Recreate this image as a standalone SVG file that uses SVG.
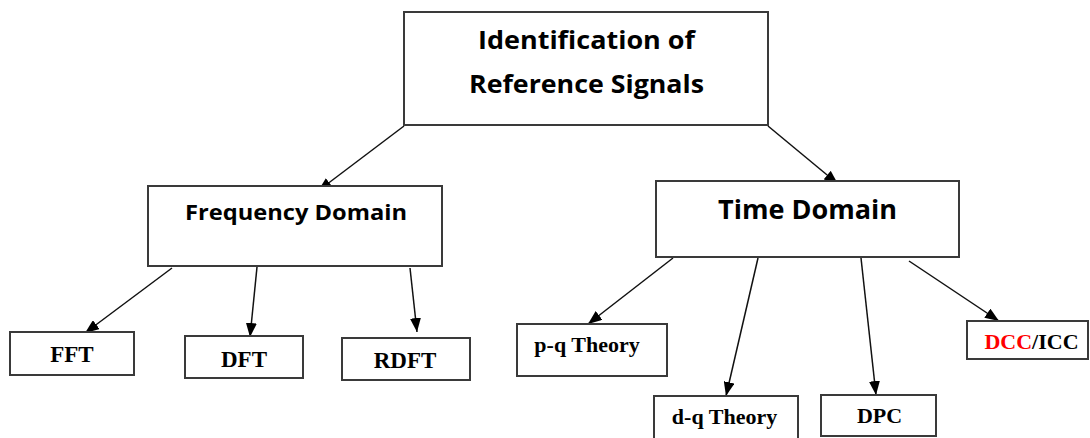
<svg xmlns="http://www.w3.org/2000/svg" width="1090" height="438" viewBox="0 0 1090 438">
  <style>
    .box { fill: #ffffff; stroke: #3a3a3a; stroke-width: 2; }
    .hdr { font-family: "Open Sans", "Liberation Sans", sans-serif; font-weight: bold; fill: #000; text-anchor: middle; }
    .leaf { font-family: "Liberation Serif", serif; font-weight: bold; fill: #000; text-anchor: middle; font-size: 22px; }
    .conn { stroke: #111; stroke-width: 1.5; fill: none; marker-end: url(#arrow); }
  </style>
  <defs>
    <marker id="arrow" markerUnits="userSpaceOnUse" markerWidth="14" markerHeight="11" refX="14" refY="5.5" orient="auto">
      <path d="M0,0 L14,5.5 L0,11 z" fill="#000"/>
    </marker>
  </defs>
  <rect width="1090" height="438" fill="#ffffff"/>

  <g id="connectors">
    <line class="conn" x1="404" y1="126" x2="318" y2="191"/>
    <line class="conn" x1="768" y1="126" x2="838" y2="184"/>
    <line class="conn" x1="172" y1="268" x2="85" y2="333"/>
    <line class="conn" x1="257" y1="267" x2="250" y2="337"/>
    <line class="conn" x1="410" y1="268" x2="417" y2="332"/>
    <line class="conn" x1="673" y1="258" x2="588" y2="324"/>
    <line class="conn" x1="758" y1="258" x2="726" y2="396"/>
    <line class="conn" x1="861" y1="258" x2="876" y2="395"/>
    <line class="conn" x1="909" y1="261" x2="999" y2="321"/>
  </g>

  <g id="root">
    <rect class="box" x="404" y="12" width="364" height="113"/>
    <text class="hdr" x="586.5" y="49" font-size="25" textLength="217" lengthAdjust="spacingAndGlyphs">Identification of</text>
    <text class="hdr" x="586.5" y="93" font-size="25" textLength="235" lengthAdjust="spacingAndGlyphs">Reference Signals</text>
  </g>

  <g id="freq">
    <rect class="box" x="148" y="186" width="294" height="80"/>
    <text class="hdr" x="296" y="220" font-size="21" textLength="222" lengthAdjust="spacingAndGlyphs">Frequency Domain</text>
  </g>

  <g id="time">
    <rect class="box" x="656" y="181" width="303" height="76"/>
    <text class="hdr" x="807.5" y="219" font-size="27" textLength="179" lengthAdjust="spacingAndGlyphs">Time Domain</text>
  </g>

  <g id="fft">
    <rect class="box" x="10" y="332" width="124" height="43"/>
    <text class="leaf" x="72" y="362" font-size="23" style="font-size:23px">FFT</text>
  </g>
  <g id="dft">
    <rect class="box" x="185" y="336" width="118" height="42"/>
    <text class="leaf" x="244" y="367" style="font-size:23px">DFT</text>
  </g>
  <g id="rdft">
    <rect class="box" x="342" y="338" width="128" height="42"/>
    <text class="leaf" x="405" y="368" style="font-size:23px">RDFT</text>
  </g>

  <g id="pq">
    <rect class="box" x="517" y="324" width="150" height="52"/>
    <text class="leaf" x="587" y="352">p-q Theory</text>
  </g>
  <g id="dq">
    <rect class="box" x="654" y="396" width="144" height="50"/>
    <text class="leaf" x="724.5" y="424">d-q Theory</text>
  </g>
  <g id="dpc">
    <rect class="box" x="821" y="395" width="115" height="41"/>
    <text class="leaf" x="879.5" y="423">DPC</text>
  </g>
  <g id="dcc">
    <rect class="box" x="967" y="321" width="121" height="38"/>
    <text class="leaf" x="1031.5" y="349"><tspan fill="#ff0000">DCC</tspan>/ICC</text>
  </g>
</svg>
